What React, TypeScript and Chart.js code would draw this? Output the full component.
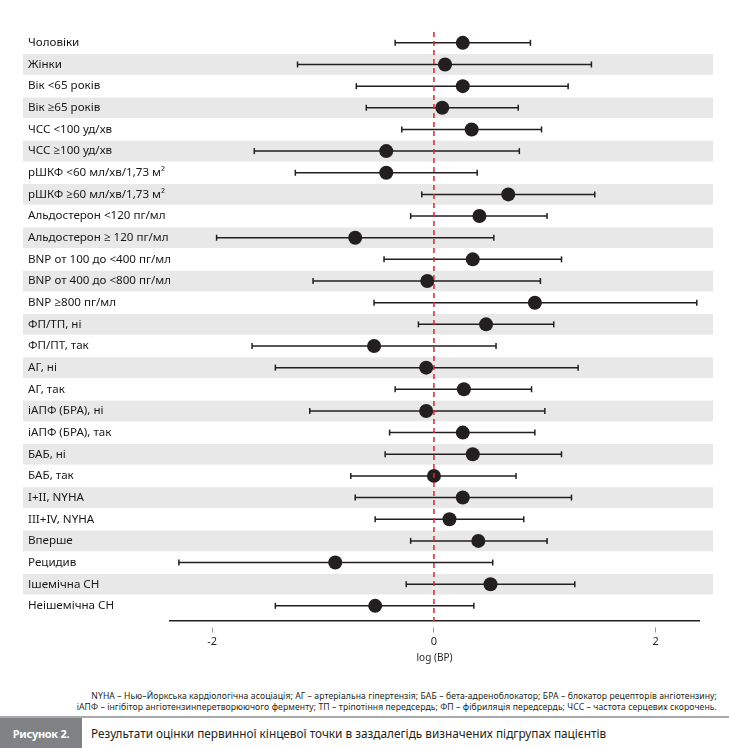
import React, { useEffect, useRef } from "react";
import { Chart, registerables } from "chart.js";

Chart.register(...registerables);

const categories = [
  "Чоловіки",
  "Жінки",
  "Вік <65 років",
  "Вік ≥65 років",
  "ЧСС <100 уд/хв",
  "ЧСС ≥100 уд/хв",
  "рШКФ <60 мл/хв/1,73 м²",
  "рШКФ ≥60 мл/хв/1,73 м²",
  "Альдостерон <120 пг/мл",
  "Альдостерон ≥ 120 пг/мл",
  "BNP от 100 до <400 пг/мл",
  "BNP от 400 до <800 пг/мл",
  "BNP ≥800 пг/мл",
  "ФП/ТП, ні",
  "ФП/ПТ, так",
  "АГ, ні",
  "АГ, так",
  "іАПФ (БРА), ні",
  "іАПФ (БРА), так",
  "БАБ, ні",
  "БАБ, так",
  "I+II, NYHA",
  "III+IV, NYHA",
  "Вперше",
  "Рецидив",
  "Ішемічна СН",
  "Неішемічна СН",
];

const estimates = [
  0.26, 0.10, 0.26, 0.075, 0.34, -0.43, -0.43, 0.67, 0.41, -0.71, 0.35, -0.06, 0.91,
  0.47, -0.54, -0.07, 0.27, -0.07, 0.26, 0.35, 0.0, 0.26, 0.14, 0.40, -0.89, 0.51, -0.53,
];

const lower = [
  -0.35, -1.23, -0.70, -0.61, -0.29, -1.62, -1.25, -0.11, -0.21, -1.96, -0.45, -1.09, -0.54,
  -0.14, -1.64, -1.43, -0.35, -1.12, -0.40, -0.44, -0.75, -0.71, -0.53, -0.21, -2.30, -0.25, -1.43,
];

const upper = [
  0.87, 1.42, 1.21, 0.76, 0.97, 0.77, 0.39, 1.45, 1.02, 0.54, 1.15, 0.96, 2.37,
  1.08, 0.56, 1.30, 0.88, 1.00, 0.91, 1.15, 0.74, 1.24, 0.81, 1.02, 0.53, 1.27, 0.36,
];

const xTicks = [-2, 0, 2];
const xTitle = "log (BP)";

const footnote1 =
  "NYHA – Нью–Йоркська кардіологічна асоціація; АГ – артеріальна гіпертензія; БАБ – бета-адреноблокатор; БРА – блокатор рецепторів ангіотензину;";
const footnote2 =
  "іАПФ – інгібітор ангіотензинперетворюючого ферменту; ТП – тріпотіння передсердь; ФП – фібриляція передсердь; ЧСС – частота серцевих скорочень.";
const figLabel = "Рисунок 2.";
const figCaption = "Результати оцінки первинної кінцевої точки в заздалегідь визначених підгрупах пацієнтів";

const INK = "#231f20";
const FONT = "'Noto Sans', 'Open Sans', sans-serif";

const bandsPlugin = {
  id: "bands",
  beforeDraw(chart: any) {
    const { ctx, chartArea, scales } = chart;
    const y = scales.y;
    ctx.save();
    ctx.fillStyle = "#e8e8e8";
    categories.forEach((_, i) => {
      if (i % 2 === 1) {
        const t = y.getPixelForValue(i - 0.5) + 0.5;
        const b = y.getPixelForValue(i + 0.5) - 0.5;
        const l = y.left - 5;
        const r = chartArea.right + 14;
        ctx.fillRect(l, t, r - l, b - t);
      }
    });
    ctx.restore();
  },
};

const refLinePlugin = {
  id: "refLine",
  afterDatasetsDraw(chart: any) {
    const { ctx, chartArea, scales } = chart;
    const x = scales.x.getPixelForValue(0);
    ctx.save();
    ctx.strokeStyle = "#e8202a";
    ctx.lineWidth = 1.5;
    ctx.setLineDash([5, 4]);
    ctx.beginPath();
    ctx.moveTo(x, chartArea.top);
    ctx.lineTo(x, chartArea.bottom);
    ctx.stroke();
    ctx.restore();
  },
};

function ForestChart() {
  const ref = useRef<HTMLCanvasElement | null>(null);

  useEffect(() => {
    if (!ref.current) return;
    const whiskers = categories.map((_, i) => ({
      type: "line" as const,
      data: [
        { x: lower[i], y: i },
        { x: upper[i], y: i },
      ],
      borderColor: INK,
      borderWidth: 1.5,
      pointStyle: "line" as const,
      rotation: 90,
      pointRadius: 3,
      pointBorderWidth: 1.5,
      pointBorderColor: INK,
      pointHoverRadius: 3,
      order: 2,
    }));
    const chart = new Chart(ref.current, {
      type: "scatter",
      data: {
        datasets: [
          {
            type: "scatter",
            data: estimates.map((v, i) => ({ x: v, y: i })),
            backgroundColor: INK,
            borderColor: INK,
            pointRadius: 7,
            pointHoverRadius: 7,
            borderWidth: 0,
            order: 1,
          } as any,
          ...whiskers,
        ],
      },
      options: {
        animation: false,
        responsive: false,
        events: [],
        layout: { padding: { left: 28, right: 30, top: 32, bottom: 0 } },
        plugins: { legend: { display: false }, tooltip: { enabled: false } },
        scales: {
          x: {
            type: "linear",
            min: -2.38,
            max: 2.39,
            afterBuildTicks: (scale: any) => {
              scale.ticks = xTicks.map((v) => ({ value: v }));
            },
            afterFit: (scale: any) => {
              scale.height = 51;
            },
            border: { display: true, color: INK, width: 1.5 },
            grid: {
              drawOnChartArea: false,
              drawTicks: true,
              tickLength: 12,
              tickBorderDash: [0, 6, 5, 60],
              tickColor: "#9a9a9a",
              tickWidth: 1,
            },
            ticks: {
              color: INK,
              font: { family: FONT, size: 11 },
              padding: 2,
            },
            title: {
              display: true,
              text: xTitle,
              color: INK,
              font: { family: FONT, size: 10 },
              padding: { top: 2, bottom: 8 },
            },
          },
          y: {
            type: "linear",
            reverse: true,
            min: -0.5,
            max: 26.7,
            afterBuildTicks: (scale: any) => {
              scale.ticks = categories.map((_, i) => ({ value: i }));
            },
            afterFit: (scale: any) => {
              scale.width = 142;
            },
            border: { display: false },
            grid: { display: false, drawTicks: false },
            ticks: {
              crossAlign: "far",
              color: "#1a1718",
              padding: 0,
              autoSkip: false,
              font: { family: FONT, size: 11.6 },
              callback: (v: any) => categories[v as number] ?? "",
            },
          },
        },
      },
      plugins: [bandsPlugin, refLinePlugin],
    } as any);
    return () => chart.destroy();
  }, []);

  return (
    <canvas
      ref={ref}
      width={729}
      height={672}
      style={{ position: "absolute", left: 0, top: 0, width: 729, height: 672 }}
    />
  );
}

export default function App() {
  return (
    <div
      style={{
        position: "absolute",
        left: 0,
        top: 0,
        width: 729,
        height: 748,
        background: "#fff",
        overflow: "hidden",
        fontFamily: FONT,
      }}
    >
      <ForestChart />
      <div
        style={{
          position: "absolute",
          right: 12,
          top: 691,
          textAlign: "right",
          fontFamily: FONT,
          fontSize: 8.6,
          lineHeight: "11px",
          color: INK,
          letterSpacing: 0.1,
          whiteSpace: "nowrap",
        }}
      >
        <div>{footnote1}</div>
        <div>{footnote2}</div>
      </div>
      <div
        style={{
          position: "absolute",
          left: 0,
          top: 716,
          width: 729,
          height: 2,
          background: "#a7a9ac",
        }}
      />
      <div
        style={{
          position: "absolute",
          left: 0,
          top: 718,
          width: 82,
          height: 30,
          background: "#808285",
          color: "#fff",
          fontWeight: 700,
          fontSize: 11,
          display: "flex",
          alignItems: "center",
          justifyContent: "center",
          letterSpacing: -0.3,
        }}
      >
        {figLabel}
      </div>
      <div
        style={{
          position: "absolute",
          left: 91,
          top: 718,
          height: 30,
          display: "flex",
          alignItems: "center",
          fontSize: 11.8,
          color: INK,
          whiteSpace: "nowrap",
        }}
      >
        {figCaption}
      </div>
    </div>
  );
}
